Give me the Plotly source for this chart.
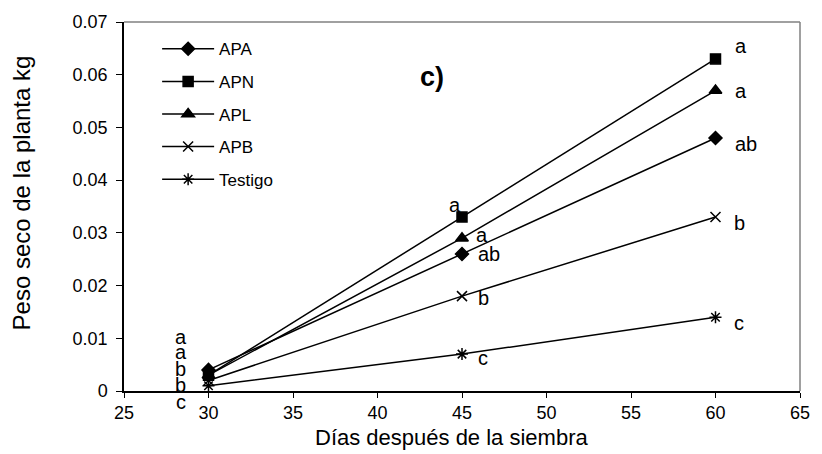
import plotly.graph_objects as go

days = [30, 45, 60]
series_names = ["APA", "APN", "APL", "APB", "Testigo"]
apa = [0.004, 0.026, 0.048]
apn = [0.003, 0.033, 0.063]
apl = [0.003, 0.029, 0.057]
apb = [0.002, 0.018, 0.033]
testigo = [0.001, 0.007, 0.014]
letters_apa = ["a", "ab", "ab"]
letters_apn = ["a", "a", "a"]
letters_apl = ["b", "a", "a"]
letters_apb = ["b", "b", "b"]
letters_testigo = ["c", "c", "c"]

values = [apa, apn, apl, apb, testigo]
letters = [letters_apa, letters_apn, letters_apl, letters_apb, letters_testigo]
symbols = ["diamond", "square", "triangle-up", "x-thin-open", "asterisk-open"]
msizes = [10, 10, 11, 10, 10]

# label offsets (xanchor, xshift, yshift) per series per point; first point stacked at left
offsets = [
    [("center", -28, 0), ("left", 14, 0), ("left", 17, -6)],
    [("center", -28, 0), ("right", 1, 12), ("left", 17, 13)],
    [("center", -28, 0), ("left", 12, 3), ("left", 17, 0)],
    [("center", -28, 0), ("left", 14, -2), ("left", 16, -6)],
    [("center", -28, 0), ("left", 14, -4), ("left", 16, -6)],
]
stack_shift = [54, 39, 22, 6, -11]

FONT = "Arial, Liberation Sans, sans-serif"
fig = go.Figure()
for i, name in enumerate(series_names):
    fig.add_trace(go.Scatter(
        x=days, y=values[i], name=name, mode="lines+markers",
        legendgroup=name,
        line=dict(color="black", width=1.5),
        marker=dict(symbol=symbols[i], size=msizes[i], color="black",
                    line=dict(color="black", width=1.5)),
    ))

annotations = []
for i in range(len(series_names)):
    for j, d in enumerate(days):
        xa, xs, ys = offsets[i][j]
        if j == 0:
            annotations.append(dict(x=d, y=0, text=letters[i][j], showarrow=False,
                                    xanchor="center", yanchor="middle", xshift=xs,
                                    yshift=stack_shift[i], font=dict(size=20, color="black", family=FONT)))
        else:
            annotations.append(dict(x=d, y=values[i][j], text=letters[i][j], showarrow=False,
                                    xanchor=xa, yanchor="middle", xshift=xs, yshift=ys,
                                    font=dict(size=20, color="black", family=FONT)))
annotations.append(dict(x=0.455, y=0.852, xref="paper", yref="paper", text="<b>c)</b>",
                        showarrow=False, xanchor="center", yanchor="middle",
                        font=dict(size=27, color="black", family=FONT)))
annotations.append(dict(x=-0.152, y=0.536, xref="paper", yref="paper",
                        text="Peso seco de la planta kg", textangle=-90,
                        showarrow=False, xanchor="center", yanchor="middle",
                        font=dict(size=24, color="black", family=FONT)))
annotations.append(dict(x=0.484, y=-0.127, xref="paper", yref="paper",
                        text="Días después de la siembra",
                        showarrow=False, xanchor="center", yanchor="middle",
                        font=dict(size=22, color="black", family=FONT)))

fig.update_layout(
    width=822, height=454,
    margin=dict(l=124, r=14, t=20, b=63),
    paper_bgcolor="white", plot_bgcolor="white",
    font=dict(family=FONT, color="black", size=18),
    annotations=annotations,
    showlegend=True,
    legend=dict(x=0.049, y=0.975, xanchor="left", yanchor="top",
                font=dict(size=17, family=FONT), itemwidth=52,
                tracegroupgap=7.5, bgcolor="rgba(0,0,0,0)"),
    shapes=[
        dict(type="line", xref="paper", yref="paper", x0=0, x1=1, y0=1, y1=1,
             line=dict(color="#808080", width=1.5)),
        dict(type="line", xref="paper", yref="paper", x0=1, x1=1, y0=0, y1=1,
             line=dict(color="#808080", width=1.5)),
    ],
)
fig.update_xaxes(range=[25, 65], dtick=5, tick0=25, showgrid=False, zeroline=False,
                 showline=True, linecolor="black", linewidth=1.5,
                 ticks="outside", ticklen=5, tickcolor="black")
fig.update_yaxes(range=[0, 0.07], dtick=0.01, showgrid=False, zeroline=False,
                 showline=True, linecolor="black", linewidth=1.5,
                 ticks="outside", ticklen=6, tickcolor="black", ticklabelstandoff=5)

fig.write_html("out.html")
